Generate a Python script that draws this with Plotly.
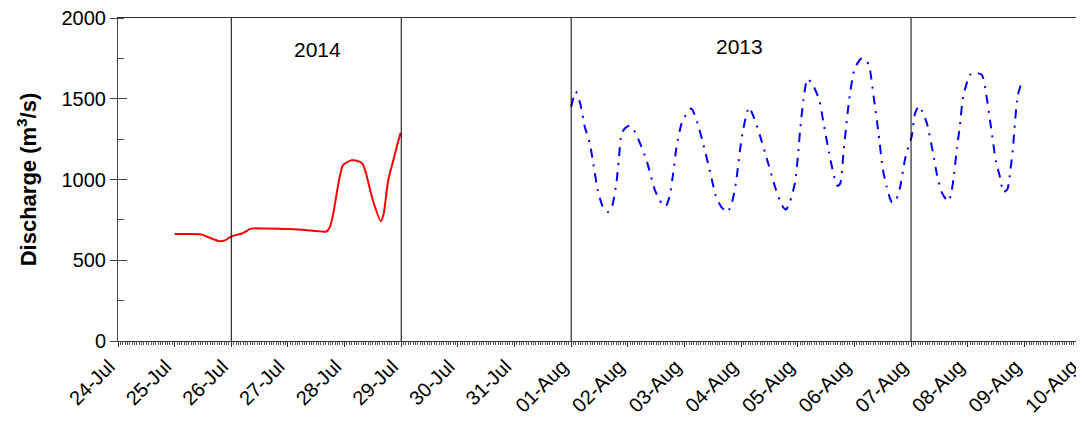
import pandas as pd
import plotly.graph_objects as go

# 2014 series: day of July (fractional) and discharge (m3/s)
red_day_jul = [25.00, 25.25, 25.47, 25.60, 25.79, 25.90, 26.00, 26.20, 26.35, 26.60,
               26.97, 27.30, 27.68, 27.74, 27.80, 27.88, 27.97, 28.12, 28.25, 28.32,
               28.38, 28.50, 28.64, 28.69, 28.77, 28.86, 28.92, 28.99]
red_q = [663, 662, 659, 642, 618, 625, 647, 667, 696, 696,
         694, 688, 678, 705, 788, 953, 1088, 1119, 1112, 1095,
         1036, 870, 742, 788, 995, 1119, 1202, 1289]

# 2013 series: day of August (fractional) and discharge (m3/s)
blue_day_aug = [1.00, 1.08, 1.16, 1.24, 1.33, 1.39, 1.47, 1.56, 1.65, 1.72,
                1.80, 1.84, 1.89, 1.96, 2.03, 2.10, 2.18, 2.33, 2.48, 2.60,
                2.67, 2.74, 2.80, 2.86, 2.96, 3.12, 3.22, 3.33, 3.46, 3.55,
                3.65, 3.76, 3.84, 3.91, 3.98, 4.04, 4.14, 4.22, 4.33, 4.48,
                4.60, 4.72, 4.79, 4.86, 4.95, 5.01, 5.04, 5.10, 5.17, 5.26,
                5.38, 5.45, 5.55, 5.63, 5.70, 5.75, 5.81, 5.87, 5.91, 6.01,
                6.13, 6.20, 6.26, 6.34, 6.43, 6.50, 6.57, 6.66, 6.72, 6.80,
                6.89, 6.95, 7.01, 7.07, 7.14, 7.20, 7.28, 7.39, 7.46, 7.54,
                7.65, 7.70, 7.75, 7.81, 7.86, 7.92, 8.04, 8.13, 8.25, 8.31,
                8.41, 8.50, 8.57, 8.63, 8.70, 8.74, 8.80, 8.88, 8.96]
blue_q = [1451, 1544, 1470, 1326, 1223, 1098, 933, 829, 798, 830,
          984, 1119, 1285, 1320, 1333, 1310, 1254, 1119, 933, 850,
          835, 900, 1036, 1202, 1358, 1440, 1360, 1223, 1036, 902,
          830, 798, 860, 984, 1181, 1316, 1447, 1390, 1275, 1098,
          953, 840, 814, 860, 978, 1171, 1300, 1492, 1623, 1590,
          1492, 1358, 1171, 1036, 960, 975, 1181, 1378, 1503, 1693,
          1751, 1740, 1704, 1513, 1275, 1067, 953, 860, 862, 943,
          1119, 1202, 1264, 1409, 1455, 1420, 1347, 1161, 1026, 922,
          864, 900, 1005, 1196, 1326, 1513, 1648, 1662, 1648, 1565,
          1326, 1109, 1016, 922, 940, 1016, 1202, 1513, 1611]

divider_dates = ["2014-07-26", "2014-07-29", "2014-08-01", "2014-08-07"]
labels = ["2014", "2013"]
label_x = ["2014-07-27 12:30", "2014-08-03 23:30"]
label_y = [1803, 1822]

red_t = pd.Timestamp("2014-07-01") + pd.to_timedelta([d - 1 for d in red_day_jul], unit="D")
blue_t = pd.Timestamp("2014-08-01") + pd.to_timedelta([d - 1 for d in blue_day_aug], unit="D")

FONT = "Arial, Liberation Sans, sans-serif"

fig = go.Figure()
fig.add_trace(go.Scatter(x=red_t, y=red_q, mode="lines",
                         line=dict(color="#ff0000", width=2, shape="spline", smoothing=0.6),
                         showlegend=False))
fig.add_trace(go.Scatter(x=blue_t, y=blue_q, mode="lines",
                         line=dict(color="#0000ff", width=2, shape="spline", smoothing=0.6,
                                   dash="9px,7px,2px,7px"),
                         showlegend=False))
# invisible helper on the overlay axis so its inward ticks are drawn
fig.add_trace(go.Scatter(x=[], y=[], yaxis="y2", showlegend=False))

for d in divider_dates:
    fig.add_shape(type="line", xref="x", yref="paper", x0=d, x1=d, y0=0, y1=1,
                  line=dict(color="black", width=1))

for t, xx, yy in zip(labels, label_x, label_y):
    fig.add_annotation(x=xx, y=yy, text=t, showarrow=False,
                       font=dict(family=FONT, size=21, color="black"))

# the page body has an 8px margin, so the figure is sized/margined to compensate
fig.update_layout(
    width=1076, height=408,
    margin=dict(l=110, r=3, t=10, b=75),
    paper_bgcolor="white", plot_bgcolor="white",
    font=dict(family=FONT, size=20, color="black"),
    xaxis=dict(
        type="date", range=["2014-07-24", "2014-08-10"], automargin=False,
        tick0="2014-07-24", dtick=86400000, tickformat="%d-%b", tickangle=-45,
        ticklabeloverflow="allow", ticklabelshift=-9,
        showgrid=False, zeroline=False,
        showline=True, linecolor="#333", linewidth=1, mirror=True,
        ticks="outside", ticklen=5, tickwidth=1, tickcolor="#333",
        minor=dict(dtick=3600000, ticks="outside", ticklen=3, tickwidth=1, tickcolor="#555"),
        tickfont=dict(family=FONT, size=20, color="black"),
    ),
    yaxis=dict(
        range=[0, 2000], dtick=500, tick0=0, automargin=False,
        ticklabeloverflow="allow",
        showgrid=False, zeroline=False,
        showline=True, linecolor="#444", linewidth=1, mirror=True,
        ticks="outside", ticklen=7, tickwidth=1, tickcolor="#444",
        minor=dict(dtick=250, ticks="inside", ticklen=6, tickwidth=1, tickcolor="#444"),
        tickfont=dict(family=FONT, size=20, color="black"),
        title=dict(text="<b>Discharge (m<sup>3</sup>/s)</b>",
                   font=dict(family=FONT, size=22, color="black"), standoff=18),
    ),
    yaxis2=dict(
        overlaying="y", side="left", range=[0, 2000], dtick=500, tick0=0,
        showgrid=False, zeroline=False, showline=False, showticklabels=False,
        ticks="inside", ticklen=9, tickwidth=1, tickcolor="#444",
    ),
)

fig.write_html("out.html")
